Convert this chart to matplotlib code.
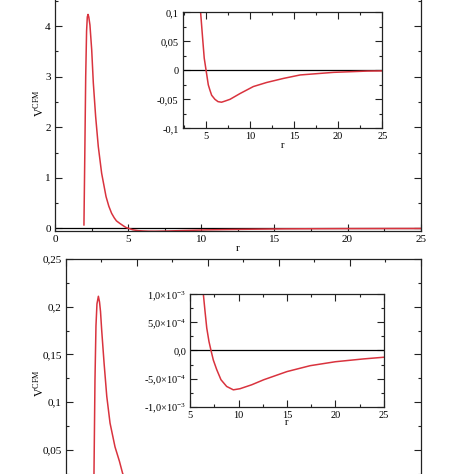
import numpy as np
import matplotlib
matplotlib.use('Agg')
import matplotlib.pyplot as plt
from matplotlib.ticker import MultipleLocator, FuncFormatter

plt.rcParams['font.family'] = ['Liberation Serif', 'DejaVu Serif']
plt.rcParams['mathtext.fontset'] = 'custom'
plt.rcParams['mathtext.rm'] = 'Liberation Serif'
plt.rcParams['mathtext.it'] = 'Liberation Serif:italic'
plt.rcParams['axes.unicode_minus'] = False

# upper panel: V^CFM(r)
r1 = [1.98, 2.04, 2.10, 2.16, 2.21, 2.26, 2.31, 2.39, 2.51, 2.62, 2.78, 2.96,
      3.19, 3.49, 3.68, 3.87, 4.05, 4.2, 4.43, 4.66, 4.84, 5.07, 5.3, 5.48,
      5.68, 6.05, 6.4, 6.8, 7.2, 7.76, 8.9, 10.4, 11.9, 13.8, 15.7, 19.5,
      23.3, 25.0]
v1 = [0.07, 1.5, 3.0, 3.9, 4.18, 4.23, 4.18, 4.02, 3.53, 2.88, 2.21, 1.62,
      1.09, 0.63, 0.44, 0.30, 0.21, 0.15, 0.10, 0.055, 0.021, -0.002, -0.025,
      -0.034, -0.043, -0.050, -0.054, -0.055, -0.053, -0.050, -0.040, -0.028,
      -0.021, -0.014, -0.008, -0.0035, -0.0013, -0.001]

# lower panel
r2 = [1.97, 1.99, 2.06, 2.13, 2.20, 2.30, 2.38, 2.45, 2.53, 2.70, 2.89, 3.12,
      3.47, 3.78, 4.01, 4.5, 5.0, 5.5, 6.0, 6.2, 6.35, 6.52, 6.7, 6.93, 7.14,
      7.38, 7.73, 8.17, 8.76, 9.45, 10.14, 11.35, 12.6, 15.0, 17.4, 20.0,
      22.9, 25.0]
v2 = [0.0, 0.025, 0.123, 0.18, 0.203, 0.211, 0.205, 0.195, 0.176, 0.141,
      0.106, 0.078, 0.053, 0.038, 0.025, 0.013, 0.007, 0.004, 0.0019, 0.0013,
      1.0e-3, 7.0e-4, 4.0e-4, 1.6e-4, 0.0, -1.7e-4, -3.4e-4, -5.2e-4, -6.4e-4,
      -7.0e-4, -6.8e-4, -6.1e-4, -5.2e-4, -3.75e-4, -2.7e-4, -2.0e-4,
      -1.5e-4, -1.2e-4]

inset2_yticks = [-1e-3, -5e-4, 0.0, 5e-4, 1e-3]
inset2_ylabels = ['-1,0×10$^{-3}$', '-5,0×10$^{-4}$', '0,0',
                  '5,0×10$^{-4}$', '1,0×10$^{-3}$']

red = '#d9333e'


def comma(v, pos):
    v = round(v, 6) + 0.0
    return ('%g' % v).replace('.', ',')


def comma_nozero(v, pos):
    # the zero label of the lower panel falls below the cropped figure
    if v < 0.01:
        return ''
    return comma(v, pos)


def style(ax, xmaj, ymaj, fs):
    ax.xaxis.set_major_locator(MultipleLocator(xmaj))
    ax.xaxis.set_minor_locator(MultipleLocator(xmaj / 2))
    ax.yaxis.set_major_locator(MultipleLocator(ymaj))
    ax.yaxis.set_minor_locator(MultipleLocator(ymaj / 2))
    ax.xaxis.set_major_formatter(FuncFormatter(comma))
    ax.yaxis.set_major_formatter(FuncFormatter(comma))
    ax.tick_params(which='both', direction='in', top=True, right=True,
                   labelsize=fs, pad=3, color='#222222')
    ax.tick_params(which='major', length=5, width=0.8)
    ax.tick_params(which='minor', length=2.5, width=0.8)
    for s in ax.spines.values():
        s.set_linewidth(0.9)
        s.set_color('#222222')


fig = plt.figure(figsize=(4.74, 4.74), dpi=100)

# top main
ax1 = fig.add_axes([0.116, 0.5127, 0.7715, 0.538])
ax1.axhline(0, color='k', lw=0.9)
ax1.plot(r1, v1, color=red, lw=1.1)
ax1.set_xlim(0, 25)
ax1.set_ylim(-0.05, 4.99)
style(ax1, 5, 1, 8)
ax1.set_xlabel('r', fontsize=8, labelpad=0)

# top inset
ins1 = fig.add_axes([0.3854, 0.7293, 0.4211, 0.2447])
ins1.axhline(0, color='k', lw=0.9)
ins1.plot(r1, v1, color=red, lw=1.1)
ins1.set_xlim(2.4, 25)
ins1.set_ylim(-0.1, 0.1)
style(ins1, 5, 0.05, 7.5)
ins1.set_xlabel('r', fontsize=7.5, labelpad=0)

# bottom main (its lower part is cropped away in the original)
ax2 = fig.add_axes([0.1386, -0.0696, 0.7496, 0.523])
ax2.axhline(0, color='k', lw=0.9)
ax2.plot(r2, v2, color=red, lw=1.1)
ax2.set_xlim(0, 25)
ax2.set_ylim(-0.01, 0.25)
style(ax2, 5, 0.05, 8)
ax2.yaxis.set_major_formatter(FuncFormatter(comma_nozero))
ax2.tick_params(labelbottom=False)

# bottom inset
ins2 = fig.add_axes([0.4015, 0.142, 0.408, 0.2371])
ins2.axhline(0, color='k', lw=0.9)
ins2.plot(r2, v2, color=red, lw=1.1)
ins2.set_xlim(5, 25)
ins2.set_ylim(-1e-3, 1e-3)
style(ins2, 5, 5e-4, 7.5)
ins2.set_yticks(inset2_yticks, inset2_ylabels)
ins2.set_xlabel('r', fontsize=7.5, labelpad=-1)

fig.text(0.082, 1 - 103 / 474, 'V$^{\\mathrm{CFM}}$', rotation=90,
         ha='center', va='center', fontsize=8.5)
fig.text(0.082, 1 - 383 / 474, 'V$^{\\mathrm{CFM}}$', rotation=90,
         ha='center', va='center', fontsize=8.5)

fig.savefig('out.png', dpi=100)
